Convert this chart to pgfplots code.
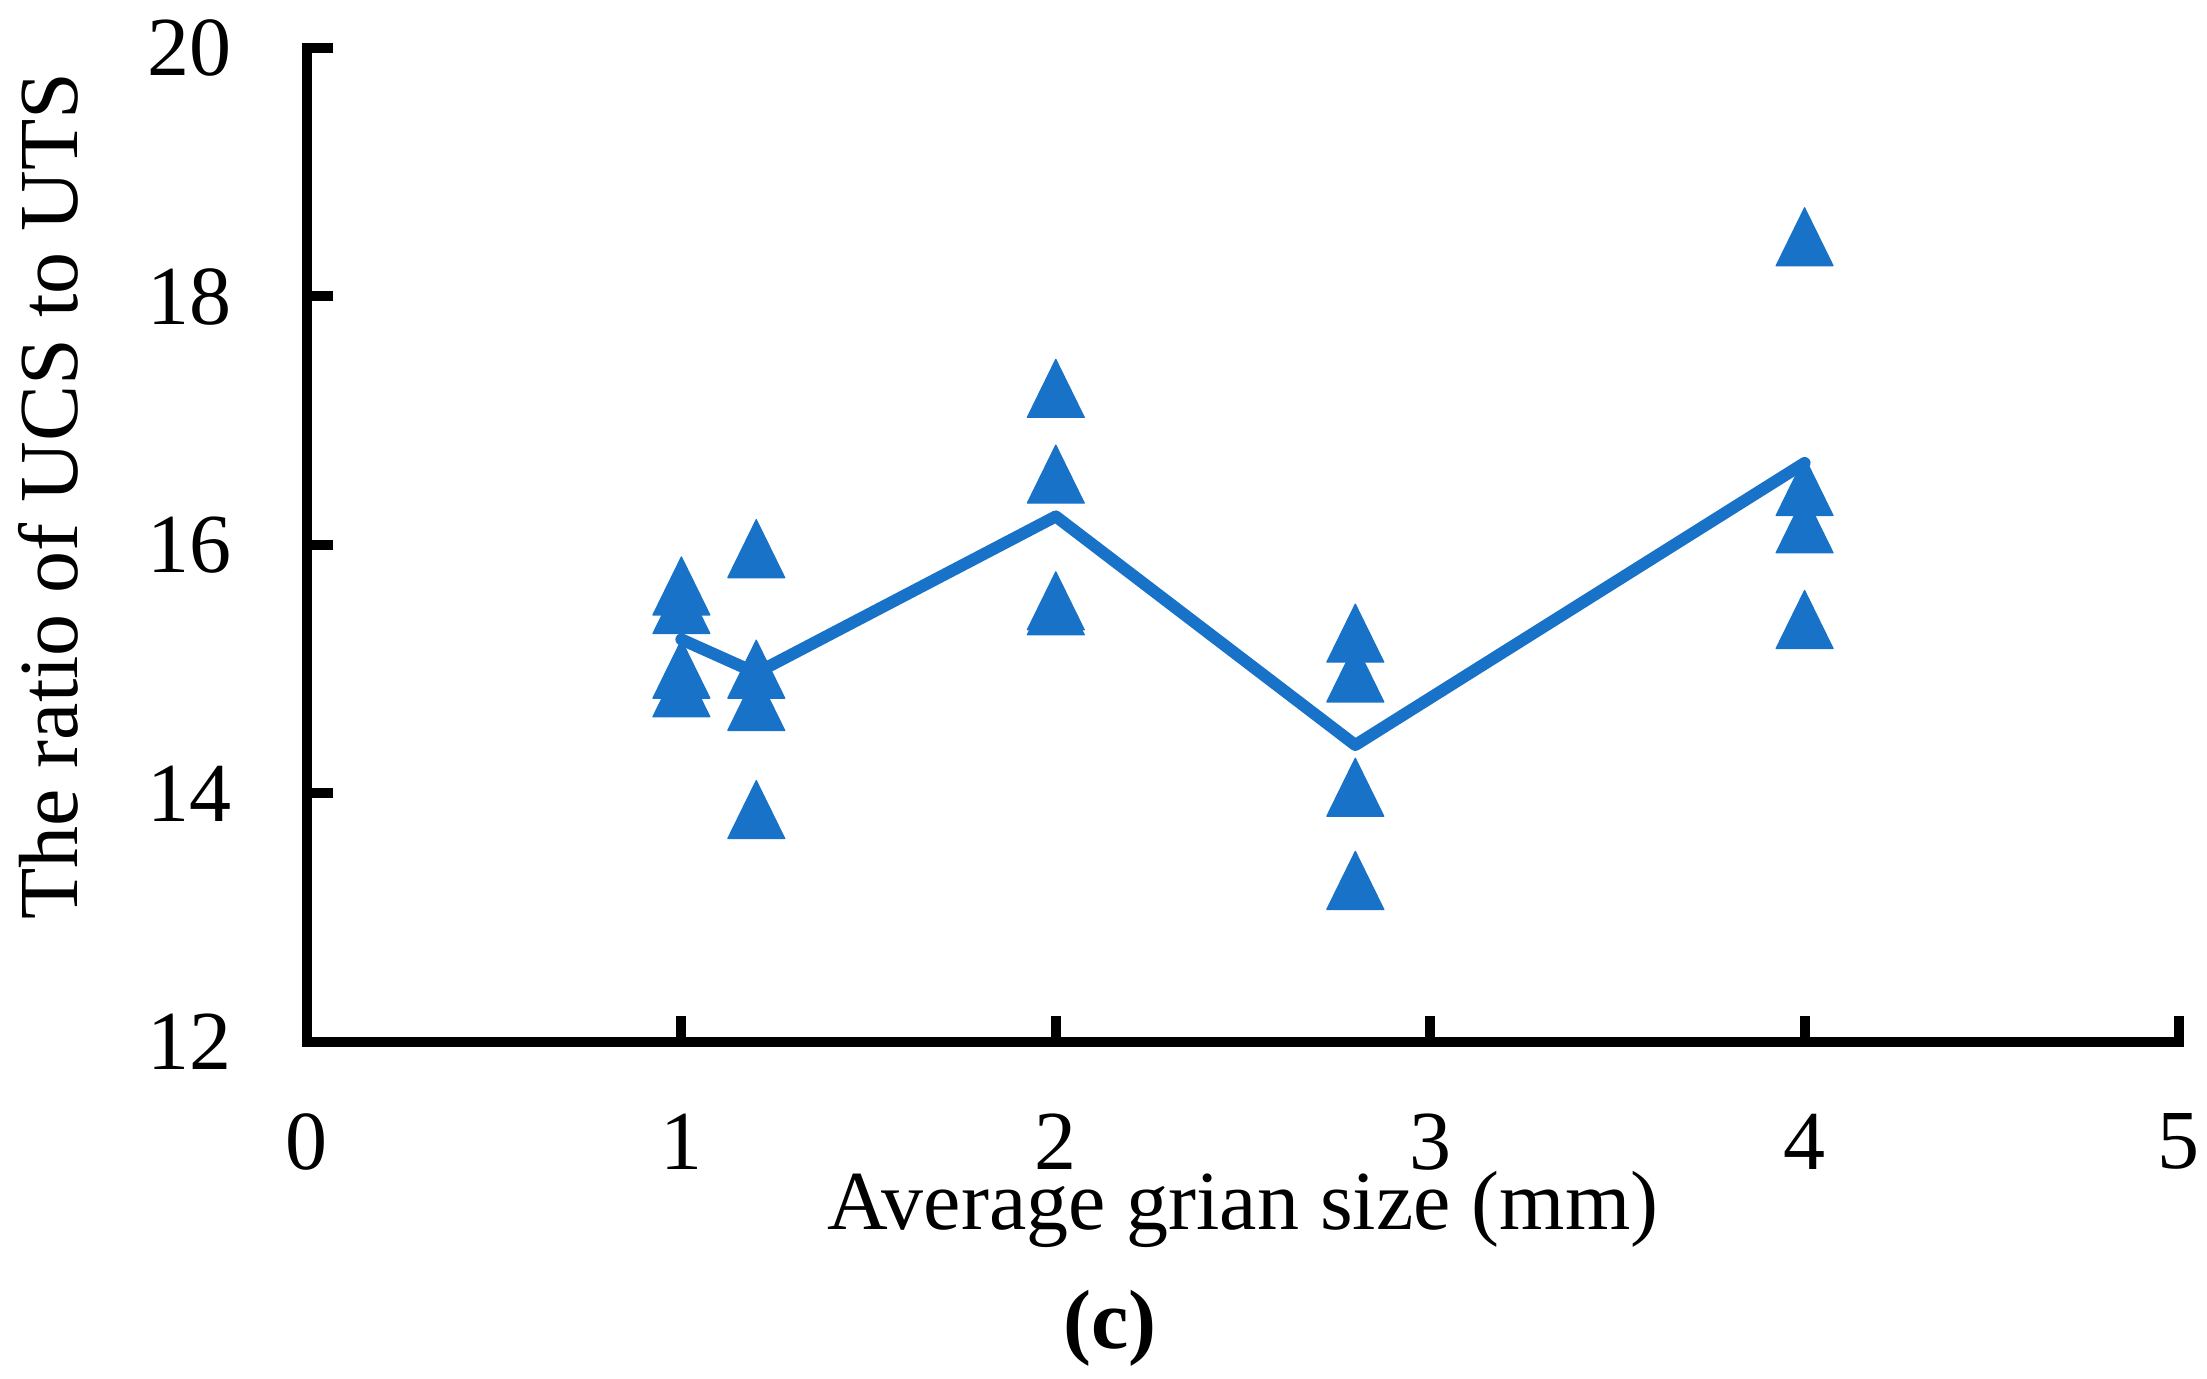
\documentclass[border=0pt]{standalone}
\usepackage{fontspec}
\setmainfont{Liberation Serif}
\usepackage{pgfplots}
\pgfplotsset{compat=1.18}
\definecolor{blu}{RGB}{24,115,200}
\begin{document}
\begin{tikzpicture}
\useasboundingbox (0,0) rectangle (551.75pt,344.75pt);
\begin{axis}[
  at={(76.75pt,84.25pt)}, anchor=south west,
  scale only axis, width=468pt, height=248.5pt,
  xmin=0, xmax=5, ymin=12, ymax=20,
  xtick={0,1,2,3,4,5}, ytick={12,14,16,18,20},
  axis x line*=bottom, axis y line*=left,
  axis line style={-, line width=2.5pt, line cap=rect},
  tick align=inside, major tick length=6.5pt,
  every tick/.style={line width=2.5pt, black},
  /pgf/number format/assume math mode=true,
  ticklabel style={font=\fontsize{21}{25}\selectfont},
  yticklabel style={anchor=east, inner sep=0pt, xshift=-18.75pt},
  xticklabel style={anchor=north, inner sep=0pt, yshift=-17.75pt},
  clip=false,
]
\addplot[color=blu, line width=3pt, line join=round, line cap=round, mark=none]
  coordinates {(1,15.24) (1.2,14.97) (2,16.23) (2.8,14.39) (4,16.66)};
\addplot[only marks, mark=triangle*, mark size=9.67pt,
  mark options={fill=blu, draw=blu, line width=0.3pt, line join=round, xscale=0.85, yshift=-2.4pt}]
  coordinates {
  (1,15.67) (1,15.52) (1,15.00) (1,14.85)
  (1.2,15.97) (1.2,15.00) (1.2,14.74) (1.2,13.87)
  (2,17.26) (2,16.57) (2,15.51) (2,15.55)
  (2.8,15.29) (2.8,14.97) (2.8,14.05) (2.8,13.30)
  (4,18.48) (4,16.47) (4,16.17) (4,15.40)};
\node[anchor=base, inner sep=0pt, font=\fontsize{21}{25}\selectfont]
  at ([yshift=-47pt]rel axis cs:0.5,0) {Average grian size (mm)};
\node[anchor=base, rotate=90, inner sep=0pt, font=\fontsize{21}{25}\selectfont]
  at ([xshift=-57.25pt]rel axis cs:0,0.549) {The ratio of UCS to UTS};
\node[anchor=base, inner sep=0pt, font=\fontsize{21}{25}\selectfont\bfseries]
  at ([yshift=-76.75pt]rel axis cs:0.429,0) {(c)};
\end{axis}
\end{tikzpicture}
\end{document}
